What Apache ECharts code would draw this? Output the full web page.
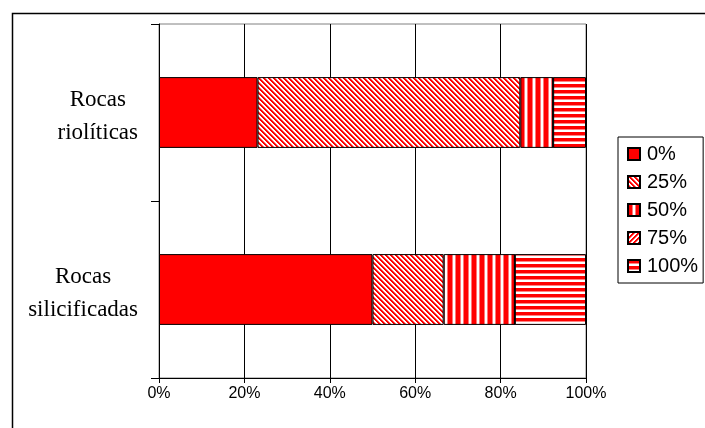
<!DOCTYPE html>
<html>
<head>
<meta charset="utf-8">
<script src="https://cdn.jsdelivr.net/npm/echarts@6/dist/echarts.min.js"></script>
<style>html,body{margin:0;padding:0;background:#fff;}#c{width:705px;height:428px;}</style>
</head>
<body>
<div id="c"></div>
<script>
const categories = ['Rocas riolíticas', 'Rocas silicificadas'];
const seriesNames = ['0%', '25%', '50%', '75%', '100%'];
const v0 = [23.08, 50.0];
const v25 = [61.54, 16.67];
const v50 = [7.69, 16.67];
const v75 = [0, 0];
const v100 = [7.69, 16.67];
const xTicks = [0, 20, 40, 60, 80, 100];

function makePattern(kind) {
  let w, h, fn;
  if (kind === 'back') { w = 5; h = 5; fn = (x, y) => ((x - y + 10) % 5); }
  else if (kind === 'fwd') { w = 5; h = 5; fn = (x, y) => ((x + y) % 5); }
  else if (kind === 'vert') { w = 8; h = 1; fn = (x, y) => x; }
  else { w = 1; h = 6; fn = (x, y) => y; }
  const c = document.createElement('canvas');
  c.width = w; c.height = h;
  const ctx = c.getContext('2d');
  const img = ctx.createImageData(w, h);
  for (let y = 0; y < h; y++) for (let x = 0; x < w; x++) {
    const d = fn(x, y);
    let col;
    if (kind === 'back' || kind === 'fwd') col = d < 2 ? [255,0,0] : (d === 2 ? [255,110,110] : [255,255,255]);
    else if (kind === 'vert') col = d < 4 ? [255,0,0] : (d === 4 || d === 7 ? [255,120,120] : [255,255,255]);
    else col = d < 3 ? [255,0,0] : (d === 3 ? [255,130,130] : [255,255,255]);
    const i = (y * w + x) * 4;
    img.data[i] = col[0]; img.data[i+1] = col[1]; img.data[i+2] = col[2]; img.data[i+3] = 255;
  }
  ctx.putImageData(img, 0, 0);
  return { image: c, repeat: 'repeat' };
}

const fills = ['#FF0000', makePattern('back'), makePattern('vert'), makePattern('fwd'), makePattern('horiz')];
const values = [v0, v25, v50, v75, v100];

const chart = echarts.init(document.getElementById('c'), null, { renderer: 'canvas' });
chart.setOption({
  animation: false,
  backgroundColor: '#fff',
  grid: { left: 159, right: 119, top: 24, bottom: 50, show: true, borderColor: '#808080', borderWidth: 1, containLabel: false },
  graphic: [{
    type: 'rect', left: 10, top: 11, shape: { width: 720, height: 440 },
    style: { fill: 'none', stroke: '#000', lineWidth: 1.5 }, z: 0, silent: true
  }],
  legend: {
    orient: 'vertical', left: 618, top: 137,
    data: seriesNames,
    itemWidth: 12, itemHeight: 12, itemGap: 8,
    borderColor: '#000', borderWidth: 1, padding: [7, 5, 7, 9],
    textStyle: { fontFamily: 'Liberation Sans, Arial, sans-serif', fontSize: 20, color: '#000', lineHeight: 19, padding: [0, 0, 0, 2] },
    icon: 'rect'
  },
  xAxis: {
    type: 'value', min: xTicks[0], max: xTicks[xTicks.length - 1], interval: 20,
    axisLine: { show: true, lineStyle: { color: '#000', width: 1 } },
    axisTick: { show: true, length: 5, lineStyle: { color: '#000' } },
    splitLine: { show: true, lineStyle: { color: '#000', width: 1 } },
    axisLabel: { formatter: '{value}%', fontFamily: 'Liberation Sans, Arial, sans-serif', fontSize: 16, color: '#000', margin: 8 }
  },
  yAxis: {
    type: 'category', data: categories, inverse: true,
    axisLine: { show: true, lineStyle: { color: '#000', width: 1 } },
    axisTick: { show: true, length: 8, lineStyle: { color: '#000' } },
    splitLine: { show: false },
    axisLabel: {
      margin: 21, align: 'right', padding: [8, 0, 0, 0],
      formatter: function (v) {
        const parts = v.split(' ');
        return parts.map(p => '{a|' + p + '}').join('\n');
      },
      rich: { a: { align: 'center', fontFamily: 'Liberation Serif, Times New Roman, serif', fontSize: 23, color: '#000', lineHeight: 33 } }
    }
  },
  series: seriesNames.map((n, i) => ({
    name: n, type: 'bar', stack: 'total', data: values[i],
    barCategoryGap: '60%',
    itemStyle: { color: fills[i], borderColor: '#000', borderWidth: 1 },
    emphasis: { disabled: true }
  }))
});
</script>
</body>
</html>
